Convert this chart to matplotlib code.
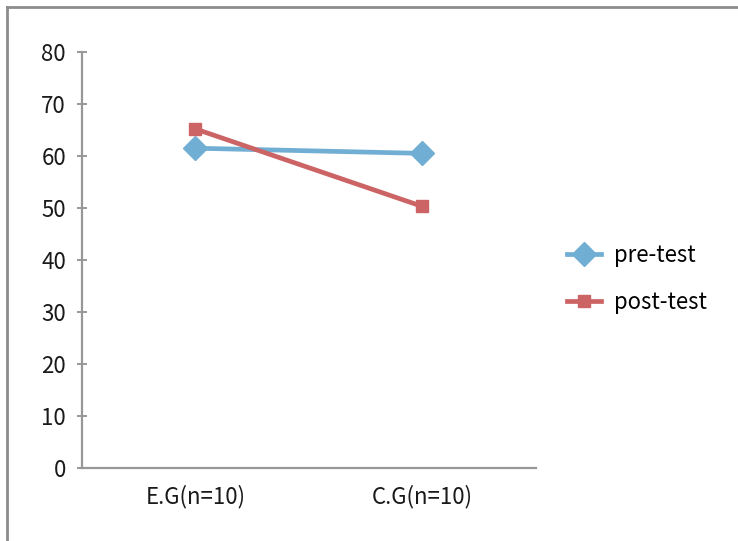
import matplotlib
matplotlib.use("Agg")
import matplotlib.pyplot as plt
from matplotlib.lines import Line2D

groups = ["E.G(n=10)", "C.G(n=10)"]
pre_test = [61.5, 60.5]
post_test = [65.2, 50.3]
y_ticks = [0, 10, 20, 30, 40, 50, 60, 70, 80]

plt.rcParams['font.family'] = ['Noto Sans CJK KR', 'DejaVu Sans']

fig = plt.figure(figsize=(7.38, 5.41), dpi=100)
ax = fig.add_axes([0.1111, 0.1349, 0.615, 0.769])

x = range(len(groups))
ax.plot(x, pre_test, color='#71AED3', linewidth=3.4, marker='D', markersize=12, label='pre-test')
ax.plot(x, post_test, color='#CC6465', linewidth=3.4, marker='s', markersize=8, label='post-test')

ax.set_xlim(-0.5, 1.5)
ax.set_ylim(0, 80)
ax.set_xticks(list(x))
ax.set_xticklabels(groups)
ax.set_yticks(y_ticks)

for side in ['top', 'right']:
    ax.spines[side].set_visible(False)
for side in ['left', 'bottom']:
    ax.spines[side].set_color('#989898')
    ax.spines[side].set_linewidth(1.6)

ax.tick_params(axis='y', direction='inout', length=7, width=1.4, color='#989898',
               pad=8, labelsize=16, labelcolor='#1a1a1a')
ax.tick_params(axis='x', length=0, pad=12, labelsize=16, labelcolor='#1a1a1a')

ax.legend(loc='center left', bbox_to_anchor=(1.025, 0.455), frameon=False,
          fontsize=16, handlelength=1.5, labelspacing=1.1, handletextpad=0.6)

# outer chart frame (only top and left visible in the crop)
fig.add_artist(Line2D([0.0095, 0.0095], [0, 0.987], transform=fig.transFigure,
                      color='#8c8c8c', linewidth=2))
fig.add_artist(Line2D([0.0095, 1], [0.987, 0.987], transform=fig.transFigure,
                      color='#8c8c8c', linewidth=2))

fig.savefig('out.png', dpi=100)
